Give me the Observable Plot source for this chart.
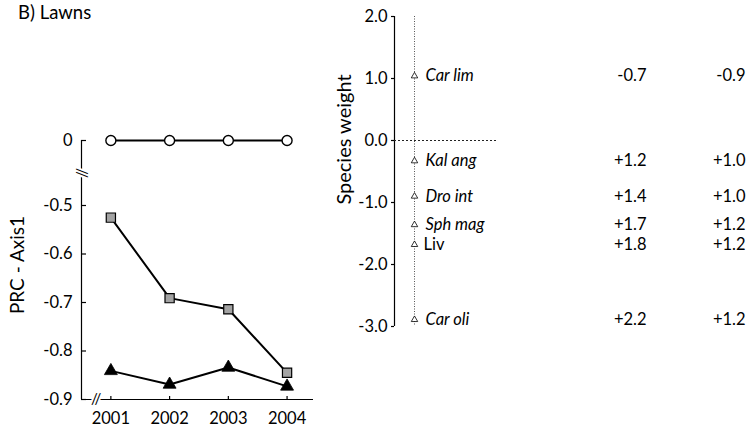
<!DOCTYPE html>
<html>
<head>
<meta charset="utf-8">
<script src="https://cdn.jsdelivr.net/npm/d3@7"></script>
<script src="https://cdn.jsdelivr.net/npm/@observablehq/plot@0.6"></script>
<style>
  html, body { margin: 0; padding: 0; background: #fff; }
  #wrap { position: relative; width: 752px; height: 433px; overflow: hidden; font-family: Lato, 'Open Sans', sans-serif; color: #000; background: #fff; }
  #title { position: absolute; left: 18px; top: 0px; font-size: 18.5px; line-height: 24px; }
  #left { position: absolute; left: 0; top: 0; }
  #right { position: absolute; left: 330px; top: 0; }
</style>
</head>
<body>
<div id="wrap">
  <div id="left"></div>
  <div id="right"></div>
  <div id="title">B) Lawns</div>
</div>
<script>
// ---- Data: PRC (principal response curves), panel B Lawns ----
const years = [2001, 2002, 2003, 2004];
const controlValues = [0, 0, 0, 0];
const squareValues = [-0.525, -0.691, -0.714, -0.845];
const triangleValues = [-0.841, -0.869, -0.834, -0.873];
const prcTicks = [0, -0.5, -0.6, -0.7, -0.8, -0.9];

// ---- Data: species weights ----
const speciesNames = ["Car lim", "Kal ang", "Dro int", "Sph mag", "Liv", "Car oli"];
const speciesWeights = [1.04, -0.33, -0.9, -1.36, -1.68, -2.89];
const columnA = [-0.7, 1.2, 1.4, 1.7, 1.8, 2.2];
const columnB = [-0.9, 1.0, 1.0, 1.2, 1.2, 1.2];
const weightTicks = [2, 1, 0, -1, -2, -3];

// ---- Build tables ----
const seriesDefs = [
  {name: "Control", values: controlValues},
  {name: "Square", values: squareValues},
  {name: "Triangle", values: triangleValues}
];
const prcRows = seriesDefs.flatMap(s => years.map((year, i) => ({series: s.name, year, value: s.values[i]})));
const speciesRows = speciesNames.map((name, i) => ({name, weight: speciesWeights[i], a: columnA[i], b: columnB[i]}));

const signed = v => (v > 0 ? "+" : "") + v.toFixed(1);
const FONT = "Lato, 'Open Sans', sans-serif";
const baseStyle = {fontFamily: FONT, fontSize: "16px", color: "#000", background: "transparent", overflow: "visible"};

// Left panel scales (broken y axis: 0 sits above the -0.5 … -0.9 section)
const xDomain = [2000.5, 2004.45];
const yDomain = [-0.9, -0.5, 0];
const yBreak = (prcTicks[0] + prcTicks[1]) / 2;
const xBreak = (xDomain[0] + years[0]) / 2;

const left = Plot.plot({
  width: 330, height: 433,
  marginLeft: 81, marginRight: 17, marginTop: 140, marginBottom: 34,
  style: baseStyle,
  x: {type: "linear", domain: xDomain},
  y: {type: "linear", domain: yDomain, range: [399, 205, 140]},
  marks: [
    Plot.ruleX([xDomain[0]], {stroke: "black", strokeWidth: 1.2}),
    Plot.ruleY([yDomain[0]], {stroke: "black", strokeWidth: 1.2}),
    Plot.axisY({ticks: prcTicks, tickFormat: d => d === 0 ? "0" : d.toFixed(1), tickSize: -5, tickPadding: 14, label: null, fontSize: 16.5, strokeWidth: 1.2}),
    Plot.axisX({ticks: years, tickFormat: d => String(d), tickSize: -3, tickPadding: 16, label: null, fontSize: 16.5, strokeWidth: 1.2}),
    Plot.text(["//"], {text: d => d, y: yBreak, frameAnchor: "left", textAnchor: "middle", lineAnchor: "middle", rotate: 90, fontSize: 15, fill: "black", stroke: "white", strokeWidth: 4}),
    Plot.text(["//"], {text: d => d, x: xBreak, frameAnchor: "bottom", textAnchor: "middle", lineAnchor: "middle", fontSize: 15, fill: "black", stroke: "white", strokeWidth: 4}),
    Plot.text(["PRC - Axis1"], {text: d => d, frameAnchor: "left", textAnchor: "middle", lineAnchor: "middle", dx: -64, dy: -5, rotate: -90, fontSize: 19, fill: "black"}),
    Plot.line(prcRows, {x: "year", y: "value", z: "series", stroke: "black", strokeWidth: 2}),
    Plot.dot(prcRows.filter(d => d.series === "Control"), {x: "year", y: "value", symbol: "circle", r: 5, fill: "white", stroke: "black", strokeWidth: 1.4}),
    Plot.dot(prcRows.filter(d => d.series === "Square"), {x: "year", y: "value", symbol: "square", r: 5.2, fill: "#a3a3a3", stroke: "black", strokeWidth: 1.2}),
    Plot.dot(prcRows.filter(d => d.series === "Triangle"), {x: "year", y: "value", symbol: "triangle", r: 4.8, fill: "black", stroke: "black", strokeWidth: 0.8})
  ]
});
document.getElementById("left").appendChild(left);

// Right panel: x is a point scale with the axis line and the species strip
const strips = ["axis", "species"];
const right = Plot.plot({
  width: 422, height: 433,
  marginLeft: 64, marginRight: 7, marginTop: 16, marginBottom: 107,
  style: baseStyle,
  x: {type: "point", domain: strips, range: [64, 84], padding: 0, axis: null},
  y: {type: "linear", domain: [-3, 2]},
  marks: [
    Plot.ruleX(["axis"], {stroke: "black", strokeWidth: 1.2}),
    Plot.axisY({ticks: weightTicks, tickFormat: d => d.toFixed(1), tickSize: 3, tickPadding: 4, label: null, fontSize: 16.5, strokeWidth: 1.2}),
    Plot.ruleX(["species"], {stroke: "#555", strokeDasharray: "1,1.5", strokeWidth: 1}),
    Plot.ruleY([0], {stroke: "#222", strokeDasharray: "2,2", strokeWidth: 1, insetRight: 248}),
    Plot.text(["Species weight"], {text: d => d, frameAnchor: "left", textAnchor: "middle", lineAnchor: "middle", dx: -50, dy: -32, rotate: -90, fontSize: 20, fill: "black"}),
    Plot.dot(speciesRows, {x: () => "species", y: "weight", symbol: "triangle", r: 2.4, fill: "white", stroke: "black", strokeWidth: 0.8}),
    Plot.text(speciesRows.filter(d => d.name.includes(" ")), {x: () => "species", y: "weight", text: "name", textAnchor: "start", dx: 11, fontStyle: "italic", fontSize: 16.5, fill: "black"}),
    Plot.text(speciesRows.filter(d => !d.name.includes(" ")), {x: () => "species", y: "weight", text: "name", textAnchor: "start", dx: 9, fontSize: 16.5, fill: "black"}),
    Plot.text(speciesRows, {y: "weight", text: d => signed(d.a), frameAnchor: "right", dx: -99, textAnchor: "end", fontSize: 16.5, fill: "black"}),
    Plot.text(speciesRows, {y: "weight", text: d => signed(d.b), frameAnchor: "right", textAnchor: "end", fontSize: 16.5, fill: "black"})
  ]
});
document.getElementById("right").appendChild(right);
</script>
</body>
</html>
